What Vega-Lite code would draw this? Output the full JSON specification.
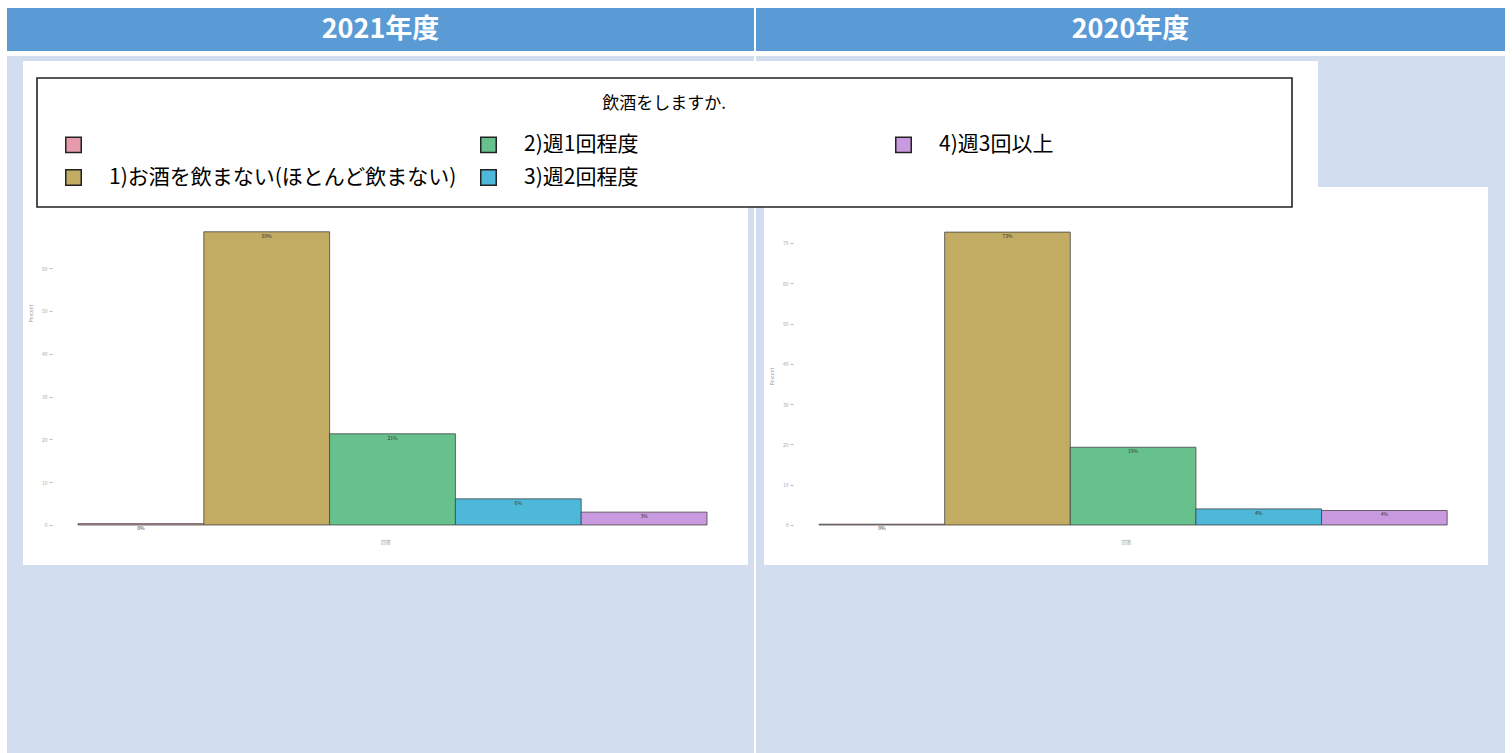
{
  "$schema": "https://vega.github.io/schema/vega-lite/v6.json",
  "background": "white",
  "padding": {"left": 7, "top": 8, "right": 7, "bottom": 0},
  "config": {
    "view": {"stroke": null},
    "font": "Noto Sans CJK JP"
  },
  "datasets": {
    "d": [
      {"year": "2021", "answer": "", "pct": 0.3, "label": "0%"},
      {"year": "2021", "answer": "1)お酒を飲まない(ほとんど飲まない)", "pct": 68.5, "label": "69%"},
      {"year": "2021", "answer": "2)週1回程度", "pct": 21.3, "label": "21%"},
      {"year": "2021", "answer": "3)週2回程度", "pct": 6.1, "label": "6%"},
      {"year": "2021", "answer": "4)週3回以上", "pct": 3.0, "label": "3%"},
      {"year": "2020", "answer": "", "pct": 0.2, "label": "0%"},
      {"year": "2020", "answer": "1)お酒を飲まない(ほとんど飲まない)", "pct": 72.7, "label": "73%"},
      {"year": "2020", "answer": "2)週1回程度", "pct": 19.3, "label": "19%"},
      {"year": "2020", "answer": "3)週2回程度", "pct": 4.0, "label": "4%"},
      {"year": "2020", "answer": "4)週3回以上", "pct": 3.6, "label": "4%"}
    ],
    "h": [{"t": "2021年度"}, {"t": "2020年度"}],
    "empty": []
  },
  "resolve": {"scale": {"x": "independent", "y": "independent", "color": "shared"}, "legend": {"color": "shared"}},
  "spacing": 2,
  "hconcat": [
    {
      "spacing": 5,
      "resolve": {"scale": {"x": "independent", "y": "independent", "color": "shared"}},
      "vconcat": [
        {
          "width": 747, "height": 43,
          "view": {"fill": "#5b9bd5", "stroke": null},
          "data": {"name": "h"},
          "transform": [{"filter": "datum.t == '2021年度'"}],
          "mark": {"type": "text", "color": "white", "fontWeight": "bold", "fontSize": 27, "baseline": "middle", "align": "center"},
          "encoding": {"text": {"field": "t"}}
        },
        {
          "spacing": 0,
          "resolve": {"scale": {"x": "independent", "y": "independent", "color": "shared"}},
          "hconcat": [
            {"width": 16, "height": 697, "view": {"fill": "#d2ddef", "stroke": null}, "data": {"name": "empty"}, "mark": "point"},
            {
              "spacing": 0,
              "resolve": {"scale": {"x": "independent", "y": "independent", "color": "shared"}},
              "vconcat": [
                {"width": 725, "height": 5, "view": {"fill": "#d2ddef", "stroke": null}, "data": {"name": "empty"}, "mark": "point"},
                {
                  "width": 725, "height": 504,
                  "view": {"fill": "white", "stroke": null},
                  "data": {"name": "d"},
                  "transform": [{"filter": "datum.year == '2021'"}],
                  "encoding": {
                    "x": {
                      "field": "answer", "type": "nominal",
                      "sort": ["", "1)お酒を飲まない(ほとんど飲まない)", "2)週1回程度", "3)週2回程度", "4)週3回以上"],
                      "scale": {"paddingInner": 0, "paddingOuter": 0.3816, "align": 0.573},
                      "axis": {"offset": -40, "labels": false, "ticks": false, "domain": false, "title": "回答", "titleFontSize": 5, "titleColor": "#999", "titleFontWeight": "normal", "titlePadding": 14}
                    },
                    "y": {
                      "field": "pct", "type": "quantitative",
                      "scale": {"domain": [-9.35, 108.4], "nice": false},
                      "axis": {"offset": -29, "values": [0, 10, 20, 30, 40, 50, 60], "labelFontSize": 5, "labelColor": "#aaa", "tickColor": "#bbb", "tickSize": 3, "domain": false, "grid": false, "title": "Percent", "titleFontSize": 5, "titleColor": "#999", "titleFontWeight": "normal", "labelPadding": 2, "titlePadding": 8}
                    }
                  },
                  "layer": [
                    {
                      "mark": {"type": "bar", "stroke": "#444", "strokeWidth": 0.8},
                      "encoding": {
                        "color": {
                          "field": "answer", "type": "nominal",
                          "scale": {
                            "domain": ["", "1)お酒を飲まない(ほとんど飲まない)", "2)週1回程度", "3)週2回程度", "4)週3回以上"],
                            "range": ["#e69aab", "#c2ab62", "#66c18c", "#4db8d8", "#c99ae0"]
                          },
                          "legend": {
                            "orient": "none", "legendX": 30, "legendY": 70,
                            "columns": 3, "gridAlign": "all",
                            "title": "飲酒をしますか.", "titleAnchor": "middle", "titleFontSize": 17, "titleFontWeight": "normal", "titleColor": "black", "titlePadding": 21,
                            "labelFontSize": 21, "labelColor": "black", "labelLimit": 0, "labelOffset": 25,
                            "labelExpr": "indexof(datum.value, '4)') == 0 ? datum.value + '\u3000\u3000\u3000\u3000\u3000\u3000\u3000\u3000\u3000\u3000\u2002\u200b' : datum.label",
                            "symbolType": "square", "symbolSize": 240, "symbolOffset": 8, "symbolStrokeColor": "#222", "symbolStrokeWidth": 1.5,
                            "columnPadding": 13, "rowPadding": 10, "padding": 18,
                            "fillColor": "white", "strokeColor": "#222",
                            "encode": {
                              "legend": {"update": {"strokeWidth": {"value": 1.6}}}
                            }
                          }
                        }
                      }
                    },
                    {
                      "mark": {"type": "text", "fontSize": 5, "dy": 2, "baseline": "top", "color": "#333"},
                      "encoding": {"text": {"field": "label"}}
                    }
                  ]
                },
                {"width": 725, "height": 188, "view": {"fill": "#d2ddef", "stroke": null}, "data": {"name": "empty"}, "mark": "point"}
              ]
            },
            {
              "spacing": 0,
              "vconcat": [
                {"width": 6, "height": 5, "view": {"fill": "#d2ddef", "stroke": null}, "data": {"name": "empty"}, "mark": "point"},
                {"width": 6, "height": 126, "view": {"fill": "white", "stroke": null}, "data": {"name": "empty"}, "mark": "point"},
                {"width": 6, "height": 566, "view": {"fill": "#d2ddef", "stroke": null}, "data": {"name": "empty"}, "mark": "point"}
              ]
            }
          ]
        }
      ]
    },
    {
      "spacing": 5,
      "resolve": {"scale": {"x": "independent", "y": "independent", "color": "shared"}},
      "vconcat": [
        {
          "width": 749, "height": 43,
          "view": {"fill": "#5b9bd5", "stroke": null},
          "data": {"name": "h"},
          "transform": [{"filter": "datum.t == '2020年度'"}],
          "mark": {"type": "text", "color": "white", "fontWeight": "bold", "fontSize": 27, "baseline": "middle", "align": "center"},
          "encoding": {"text": {"field": "t"}}
        },
        {
          "spacing": 0,
          "resolve": {"scale": {"x": "independent", "y": "independent", "color": "shared"}},
          "vconcat": [
            {"width": 749, "height": 5, "view": {"fill": "#d2ddef", "stroke": null}, "data": {"name": "empty"}, "mark": "point"},
            {
              "spacing": 0,
              "hconcat": [
                {"width": 562, "height": 126, "view": {"fill": "white", "stroke": null}, "data": {"name": "empty"}, "mark": "point"},
                {"width": 187, "height": 126, "view": {"fill": "#d2ddef", "stroke": null}, "data": {"name": "empty"}, "mark": "point"}
              ]
            },
            {
              "spacing": 0,
              "resolve": {"scale": {"x": "independent", "y": "independent", "color": "shared"}},
              "hconcat": [
                {"width": 8, "height": 378, "view": {"fill": "#d2ddef", "stroke": null}, "data": {"name": "empty"}, "mark": "point"},
                {
                  "width": 724, "height": 378,
                  "view": {"fill": "white", "stroke": null},
                  "data": {"name": "d"},
                  "transform": [{"filter": "datum.year == '2020'"}],
                  "encoding": {
                    "x": {
                      "field": "answer", "type": "nominal",
                      "sort": ["", "1)お酒を飲まない(ほとんど飲まない)", "2)週1回程度", "3)週2回程度", "4)週3回以上"],
                      "scale": {"paddingInner": 0, "paddingOuter": 0.3816, "align": 0.574},
                      "axis": {"offset": -40, "labels": false, "ticks": false, "domain": false, "title": "回答", "titleFontSize": 5, "titleColor": "#999", "titleFontWeight": "normal", "titlePadding": 14}
                    },
                    "y": {
                      "field": "pct", "type": "quantitative",
                      "scale": {"domain": [-9.93, 83.9], "nice": false},
                      "axis": {"offset": -29, "values": [0, 10, 20, 30, 40, 50, 60, 70], "labelFontSize": 5, "labelColor": "#aaa", "tickColor": "#bbb", "tickSize": 3, "domain": false, "grid": false, "title": "Percent", "titleFontSize": 5, "titleColor": "#999", "titleFontWeight": "normal", "labelPadding": 2, "titlePadding": 8}
                    }
                  },
                  "layer": [
                    {
                      "mark": {"type": "bar", "stroke": "#444", "strokeWidth": 0.8},
                      "encoding": {
                        "color": {"field": "answer", "type": "nominal"}
                      }
                    },
                    {
                      "mark": {"type": "text", "fontSize": 5, "dy": 2, "baseline": "top", "color": "#333"},
                      "encoding": {"text": {"field": "label"}}
                    }
                  ]
                },
                {"width": 17, "height": 378, "view": {"fill": "#d2ddef", "stroke": null}, "data": {"name": "empty"}, "mark": "point"}
              ]
            },
            {"width": 749, "height": 188, "view": {"fill": "#d2ddef", "stroke": null}, "data": {"name": "empty"}, "mark": "point"}
          ]
        }
      ]
    }
  ]
}
